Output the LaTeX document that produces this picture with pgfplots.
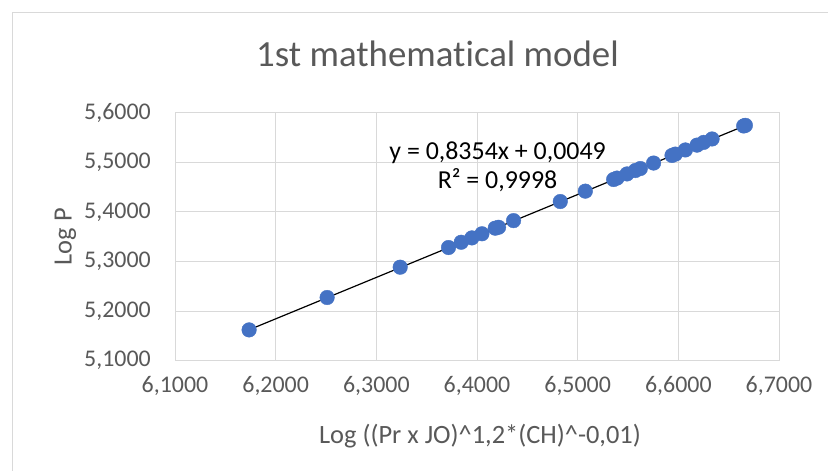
\documentclass[border=0pt]{standalone}
\usepackage{fontspec}
\setmainfont{Carlito}[RawFeature={-liga;-clig;-calt;-dlig}]
\usepackage{pgfplots}
\pgfplotsset{compat=1.18}
\definecolor{txt}{HTML}{595959}
\definecolor{gridc}{HTML}{D9D9D9}
\definecolor{pt}{HTML}{4472C4}
\begin{document}
\begin{tikzpicture}[x=1bp,y=1bp]
\useasboundingbox (0,0) rectangle (828,471);
\fill[white] (0,0) rectangle (828,471);
\draw[gridc, line width=1bp] (12,-20) rectangle (850,458);
\begin{axis}[at={(175bp,110.3bp)}, anchor=south west, scale only axis,
  width=604bp, height=248bp,
  xmin=6.1, xmax=6.7, ymin=5.1, ymax=5.6,
  xtick={6.1,6.2,6.3,6.4,6.5,6.6,6.7},
  ytick={5.1,5.2,5.3,5.4,5.5,5.6},
  scaled ticks=false,
  grid=major, major grid style={gridc, line width=1bp},
  axis line style={gridc, line width=1bp},
  major tick length=0pt,
  tick label style={font=\fontsize{24}{28}\selectfont, text=txt},
  yticklabel style={inner sep=0pt, xshift=-24bp},
  xticklabel style={inner sep=0pt, yshift=-15bp},
  /pgf/number format/.cd, use comma, fixed, fixed zerofill, precision=4, assume math mode=true,
  /pgfplots/.cd,
  clip=false]
\addplot[only marks, mark=*, mark size=7.3bp, mark options={fill=pt, draw=pt}] coordinates {
(6.1736,5.1621) (6.2511,5.2274) (6.3237,5.2885) (6.3717,5.3282) (6.3843,5.3388)
(6.3949,5.3476) (6.4049,5.3559) (6.4181,5.3672) (6.4214,5.3690) (6.4363,5.3824)
(6.4827,5.4209) (6.5076,5.4418) (6.5357,5.4653) (6.5391,5.4682) (6.5490,5.4765)
(6.5573,5.4834) (6.5622,5.4874) (6.5754,5.4985) (6.5937,5.5138) (6.5970,5.5165)
(6.6070,5.5249) (6.6186,5.5346) (6.6252,5.5401) (6.6335,5.5470) (6.6649,5.5732)
(6.6666,5.5745)
};
\addplot[black, line width=1.2bp] coordinates {(6.1736,5.1623) (6.6666,5.5742)};
\end{axis}
\node[anchor=base, text=txt, font=\fontsize{37}{44}\selectfont] at (437.5,404.3) {1st mathemat\kern0pt ical model};
\node[anchor=base, text=txt, font=\fontsize{26.5}{32}\selectfont] at (480,27.7) {Log ((Pr x JO)\textasciicircum 1,2*(CH)\textasciicircum -0,01)};
\node[rotate=90, anchor=base, text=txt, font=\fontsize{26.5}{32}\selectfont] at (71.7,234.3) {Log P};
\node[anchor=base, text=black, font=\fontsize{26}{30}\selectfont] at (497.6,311) {y = 0,8354x + 0,0049};
\node[anchor=base, text=black, font=\fontsize{26}{30}\selectfont] at (497.6,282.7) {R² = 0,9998};
\end{tikzpicture}
\end{document}
